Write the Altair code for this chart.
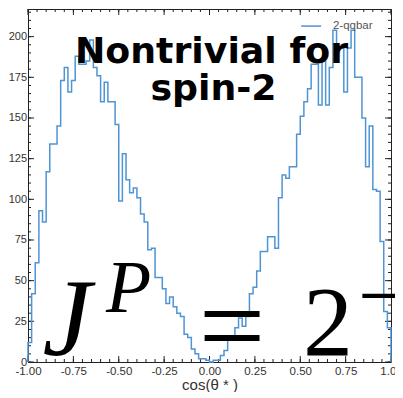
import altair as alt
import pandas as pd
import numpy as np

# ---- data: 100 bins on [-1, 1] ----
bin_lo = -1.0
bin_hi = 1.0
counts = [12, 42, 61, 93, 86, 117, 134, 134, 145, 173,
          181, 166, 173, 188, 183, 183, 185, 198, 181, 176,
          160, 172, 160, 160, 146, 99, 128, 112, 104, 107,
          101, 91, 86, 69, 70, 52, 52, 45, 36, 40,
          34, 30, 28, 17, 15, 8, 5, 2, 2, 1,
          0, 1, 1, 4, 7, 16, 16, 21, 27, 22,
          28, 42, 46, 56, 68, 68, 77, 77, 70, 101,
          115, 113, 120, 120, 140, 151, 160, 168, 183, 183,
          158, 185, 158, 181, 204, 193, 193, 166, 193, 204,
          175, 175, 150, 120, 145, 106, 105, 74, 31, 21]
series_name = "2-qqbar"
x_major = [-1.0, -0.75, -0.5, -0.25, 0.0, 0.25, 0.5, 0.75, 1.0]
y_major = [0, 25, 50, 75, 100, 125, 150, 175, 200]
x_title = "cos(θ * )"
headline = ["Nontrivial for", "spin-2"]

# ---- derived tables ----
n = len(counts)
edges = np.linspace(bin_lo, bin_hi, n + 1)
xs_, ys_ = [bin_lo], [0]
for i, c in enumerate(counts):
    xs_ += [edges[i], edges[i + 1]]
    ys_ += [c, c]
xs_.append(bin_hi)
ys_.append(0)
step = pd.DataFrame({"x": xs_, "y": ys_, "i": range(len(xs_))})

x_minor = [round(v, 3) for v in np.arange(-1.0, 1.0001, 0.05)]
y_minor = list(range(0, 216, 5))

W, H = 363, 353
xscale = alt.Scale(domain=[-1, 1], nice=False, zero=False)
yscale = alt.Scale(domain=[0, 217], nice=False, zero=False)
xaxis = alt.Axis(values=x_major, grid=False, ticks=False, tickSize=0, domain=False,
                 labelExpr="datum.value < 0 ? '-' + format(-datum.value, '.2f') : format(datum.value, '.2f')",
                 labelFlush=False, labelOverlap=False, labelFontSize=11.5, labelPadding=3.5,
                 title=x_title, titleFontSize=15, titleBaseline="alphabetic", titleY=27)
yaxis = alt.Axis(values=y_major, grid=False, ticks=False, tickSize=0, domain=False,
                 format="d", labelFontSize=11, labelPadding=1.5, title=None)
X = alt.X("x:Q", scale=xscale, axis=xaxis)
Y = alt.Y("y:Q", scale=yscale, axis=yaxis)

line = alt.Chart(step).mark_line(color="#4f94d4", strokeWidth=1.5).encode(
    x=X, y=Y, order="i:Q")

tick_col = "#222"
def yticks(vals, ln):
    d = pd.DataFrame({"y": vals})
    a = alt.Chart(d).mark_rule(color=tick_col, strokeWidth=1).encode(
        y=Y, x=alt.value(0), x2=alt.value(ln))
    b = alt.Chart(d).mark_rule(color=tick_col, strokeWidth=1).encode(
        y=Y, x=alt.value(W), x2=alt.value(W - ln))
    return [a, b]

def xticks(vals, ln):
    d = pd.DataFrame({"x": vals})
    a = alt.Chart(d).mark_rule(color=tick_col, strokeWidth=1).encode(
        x=X, y=alt.value(H), y2=alt.value(H - ln))
    b = alt.Chart(d).mark_rule(color=tick_col, strokeWidth=1).encode(
        x=X, y=alt.value(0), y2=alt.value(ln))
    return [a, b]

ticks = yticks(y_minor, 3) + yticks(y_major, 6) + xticks(x_minor, 3) + xticks(x_major, 6)

def label(text, x, y, **kw):
    d = pd.DataFrame({"x": [x], "y": [y], "t": [text]})
    return alt.Chart(d).mark_text(**kw).encode(x=X, y=Y, text="t:N")

# legend
leg_line = alt.Chart(pd.DataFrame({"x": [0.505], "x2": [0.615], "y": [206.5]})).mark_rule(
    color="#4f94d4", strokeWidth=1.5).encode(x=X, x2="x2:Q", y=Y)
leg_text = label(series_name, 0.68, 206.5, align="left", baseline="middle",
                 font="Liberation Sans", fontSize=11.5, color="#555")

bold = dict(font="DejaVu Sans", fontWeight="bold", fontSize=36.3, color="black",
            align="center", baseline="alphabetic")
t1 = label(headline[0], 0.011, 183.8, **bold)
t2 = label(headline[1], 0.022, 161.0, **bold)

serif = dict(font="Liberation Serif", color="black", baseline="alphabetic")
tJ = label("J", -0.92, 4.3, align="left", fontStyle="italic", fontSize=110, **serif)
tP = label("P", -0.57, 30.7, align="left", fontStyle="italic", fontSize=74, **serif)
tEq = label("=", 0.124, -2.5, align="center", fontSize=118, **serif)
t2n = label("2", 0.515, 4.3, align="left", fontSize=100, **serif)
tM = label("−", 0.818, 23.4, align="left", fontSize=85, **serif)

chart = alt.layer(*ticks, line, leg_line, leg_text, t1, t2, tJ, tP, tEq, t2n, tM).properties(
    width=W, height=H,
    autosize=alt.AutoSizeParams(type="none"),
    padding={"left": 20, "top": 1, "right": 4, "bottom": 30},
    background="white",
).configure_view(stroke="#222", strokeWidth=1).configure_axis(
    labelFont="Liberation Sans", labelColor="#333",
    titleFont="Liberation Sans", titleColor="#333", titleFontWeight="normal")

chart.save("out.html", embed_options={"renderer": "svg", "actions": False})
